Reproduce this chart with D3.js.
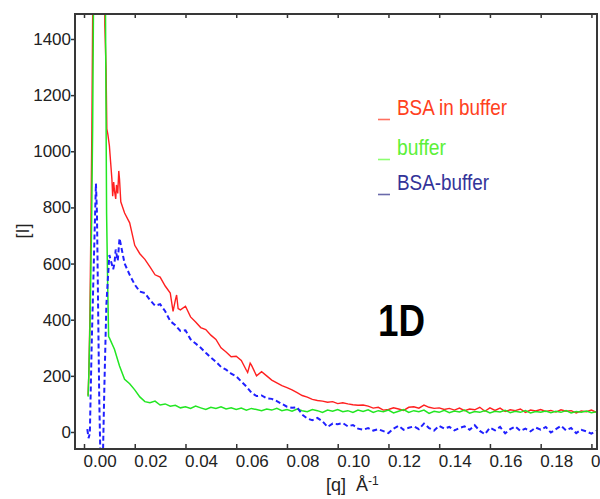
<!DOCTYPE html>
<html>
<head>
<meta charset="utf-8">
<script src="https://cdn.jsdelivr.net/npm/d3@7"></script>
<style>
body { margin: 0; background: #fff; }
svg { display: block; }
</style>
</head>
<body>
<svg id="fig"></svg>
<script>
// shared q grid for the tail of the three curves (A^-1)
const qGrid = [
  0.010, 0.012, 0.014, 0.016, 0.018, 0.020, 0.022, 0.024, 0.026, 0.028,
  0.030, 0.032, 0.034, 0.036, 0.038, 0.040, 0.042, 0.044, 0.046, 0.048,
  0.050, 0.052, 0.054, 0.056, 0.058, 0.060, 0.062, 0.064, 0.066, 0.068,
  0.070, 0.072, 0.074, 0.076, 0.078, 0.080, 0.082, 0.084, 0.086, 0.088,
  0.090, 0.092, 0.094, 0.096, 0.098, 0.100, 0.102, 0.104, 0.106, 0.108,
  0.110, 0.112, 0.114, 0.116, 0.118, 0.120, 0.122, 0.124, 0.126, 0.128,
  0.130, 0.132, 0.134, 0.136, 0.138, 0.140, 0.142, 0.144, 0.146, 0.148,
  0.150, 0.152, 0.154, 0.156, 0.158, 0.160, 0.162, 0.164, 0.166, 0.168,
  0.170, 0.172, 0.174, 0.176, 0.178, 0.180, 0.182, 0.184, 0.186, 0.188,
  0.190, 0.192, 0.194, 0.196, 0.198, 0.200, 0.202
];

// BSA in buffer: steep head + a few extra spikes, then the grid
const redHeadQ = [0.0016, 0.0019, 0.0023, 0.0027, 0.0031, 0.0035, 0.0050, 0.0075, 0.0082, 0.0087, 0.0090, 0.0094,
  0.0105, 0.0110, 0.0113, 0.0117, 0.0125, 0.0128, 0.0133, 0.0137, 0.0145,
  0.0351, 0.0365, 0.0371, 0.0645, 0.0655];
const redHead = [130, 210, 400, 720, 1080, 1600, 4000, 4000, 1450, 1290, 1080, 1060,
  960, 900, 840, 890, 830, 880, 850, 930, 820,
  430, 488, 440, 212, 245];
const redTail = [
  1020, 860, 900, 780, 745, 665, 635, 615, 588, 560,
  552, 520, 495, 470, 435, 448, 410, 392, 372, 365,
  345, 330, 300, 285, 268, 270, 255, 220, 238, 200,
  215, 200, 185, 175, 165, 158, 150, 140, 130, 124,
  116, 112, 110, 106, 108, 101, 104, 100, 97, 95,
  96, 92, 85, 88, 78, 80, 86, 82, 77, 88,
  90, 85, 96, 88, 84, 86, 80, 84, 78, 85,
  76, 82, 79, 88, 74, 86, 77, 85, 73, 79,
  76, 82, 70, 78, 75, 80, 73, 77, 71, 79,
  74, 76, 68, 75, 72, 78, 70
];

// buffer
const greenHeadQ = [0.0016, 0.0019, 0.0024, 0.0030, 0.0034, 0.0038, 0.0050, 0.0075, 0.0084, 0.0089, 0.0093, 0.0097];
const greenHead = [126, 200, 400, 750, 1080, 1600, 4000, 4000, 1600, 780, 540, 340];
const greenTail = [
  335, 295, 235, 188, 172, 150, 125, 108, 104, 110,
  96, 100, 92, 95, 86, 90, 84, 92, 86, 80,
  88, 84, 90, 82, 86, 80, 85, 78, 84, 80,
  76, 82, 78, 84, 76, 80, 74, 82, 76, 72,
  80, 76, 70, 78, 74, 80, 72, 76, 70, 78,
  73, 79, 70, 76, 72, 78, 68, 74, 80, 70,
  76, 72, 78, 66, 74, 70, 77, 69, 75, 71,
  78, 67, 73, 70, 76, 68, 74, 71, 77, 69,
  74, 70, 76, 68, 73, 70, 75, 69, 74, 70,
  76, 68, 73, 70, 75, 69, 72
];

// BSA-buffer
const blueHeadQ = [0.0013, 0.0018, 0.0023, 0.0030, 0.0040, 0.0047, 0.0051, 0.0060, 0.0066, 0.0072, 0.0080, 0.0088, 0.0095,
  0.0115, 0.0125, 0.0133];
const blueHead = [10, -22, -5, 300, 650, 885, 780, 120, -150, -200, 150, 450, 560,
  580, 650, 610];
const blueTail = [
  630, 600, 690, 600, 560, 525, 500, 495, 470, 450,
  455, 430, 395, 380, 360, 362, 330, 315, 300, 282,
  265, 250, 232, 222, 208, 198, 180, 162, 140, 128,
  130, 120, 118, 110, 100, 90, 86, 88, 62, 48,
  42, 50, 38, 18, 30, 28, 32, 20, 25, 12,
  8, 14, 5, 10, 3, -4, 12, 22, 8, 15,
  20, 10, 30, 14, 5, 22, 12, 18, 6, 14,
  20, 8, 24, 4, -8, 15, 6, 18, -5, 10,
  20, 4, 12, 2, 16, 8, 18, -2, 10, 22,
  6, 14, -4, 8, 2, -6, 4
];

const xTicks = [0, 0.02, 0.04, 0.06, 0.08, 0.10, 0.12, 0.14, 0.16, 0.18, 0.20];
const yTicks = [0, 200, 400, 600, 800, 1000, 1200, 1400];
const legendNames = ['BSA in buffer', 'buffer', 'BSA-buffer'];

function series(headQ, head, tail) {
  const pts = headQ.map((q, i) => [q, head[i]]).concat(qGrid.map((q, i) => [q, tail[i]]));
  return pts.sort((a, b) => a[0] - b[0]);
}

const width = 600, height = 499;
const plot = { left: 75, top: 14, right: 597, bottom: 449 };

const svg = d3.select('#fig').attr('width', width).attr('height', height);

const x = d3.scaleLinear().domain([-0.00355, 0.2022]).range([plot.left, plot.right]);
const y = d3.scaleLinear().domain([-60.6, 1489]).range([plot.bottom, plot.top]);

svg.append('clipPath').attr('id', 'clip')
  .append('rect')
  .attr('x', plot.left).attr('y', plot.top)
  .attr('width', plot.right - plot.left).attr('height', plot.bottom - plot.top);

const line = d3.line().x(d => x(d[0])).y(d => y(d[1]));
const curves = svg.append('g').attr('clip-path', 'url(#clip)');

curves.append('path').datum(series(redHeadQ, redHead, redTail))
  .attr('d', line).attr('fill', 'none').attr('stroke', '#ff2020').attr('stroke-width', 1.4);
curves.append('path').datum(series(greenHeadQ, greenHead, greenTail))
  .attr('d', line).attr('fill', 'none').attr('stroke', '#22e622').attr('stroke-width', 1.5);
curves.append('path').datum(series(blueHeadQ, blueHead, blueTail))
  .attr('d', line).attr('fill', 'none').attr('stroke', '#2020ff').attr('stroke-width', 2)
  .attr('stroke-dasharray', '5,3');

const tickFont = '"Liberation Sans", Arial, sans-serif';

// left axis, ticks outward
const gy = svg.append('g').attr('transform', `translate(${plot.left},0)`)
  .call(d3.axisLeft(y).tickValues(yTicks).tickFormat(d3.format('d')).tickSize(4).tickPadding(0));
gy.select('.domain').remove();
gy.selectAll('line').attr('stroke', '#333').attr('stroke-width', 1.5);
gy.selectAll('text').attr('font-family', tickFont).attr('font-size', 17).attr('fill', '#222');

// bottom axis, ticks inward, labels start at the tick (last one runs off the page, as in the original)
const gx = svg.append('g').attr('transform', `translate(0,${plot.bottom})`)
  .call(d3.axisBottom(x).tickValues(xTicks).tickFormat(d3.format('.2f')).tickSize(-5).tickPadding(6));
gx.select('.domain').remove();
gx.selectAll('line').attr('stroke', '#333').attr('stroke-width', 1.5);
gx.selectAll('text').attr('font-family', tickFont).attr('font-size', 17).attr('fill', '#222')
  .attr('text-anchor', 'start').attr('x', -1);

// top ticks, inward, no labels
const gt = svg.append('g').attr('transform', `translate(0,${plot.top})`)
  .call(d3.axisTop(x).tickValues(xTicks).tickFormat('').tickSize(-4));
gt.select('.domain').remove();
gt.selectAll('line').attr('stroke', '#333').attr('stroke-width', 1.5);

// frame
svg.append('rect')
  .attr('x', plot.left).attr('y', plot.top)
  .attr('width', plot.right - plot.left).attr('height', plot.bottom - plot.top)
  .attr('fill', 'none').attr('stroke', '#383838').attr('stroke-width', 2);

// axis titles
svg.append('text')
  .attr('transform', 'translate(29,231) rotate(-90)')
  .attr('text-anchor', 'middle')
  .attr('font-family', tickFont).attr('font-size', 18).attr('fill', '#222')
  .text('[I]');

const xt = svg.append('text').attr('x', 326).attr('y', 491)
  .attr('font-family', tickFont).attr('font-size', 18).attr('fill', '#222');
xt.append('tspan').text('[q]');
xt.append('tspan').attr('x', 356).text('Å');
xt.append('tspan').attr('dy', -6).attr('font-size', 12).text('-1');

// legend
const legendColors = ['#ff4020', '#5cf038', '#333399'];
const markColors = ['#ff7060', '#8cff70', '#6a6aaa'];
const legendBase = [115, 155, 190];
const legendLen = [110, 49, 92];
legendNames.forEach((name, i) => {
  svg.append('line')
    .attr('x1', 378).attr('x2', 390)
    .attr('y1', legendBase[i] + 4.5).attr('y2', legendBase[i] + 4.5)
    .attr('stroke', markColors[i]).attr('stroke-width', 1.6);
  svg.append('text')
    .attr('x', 397).attr('y', legendBase[i])
    .attr('font-family', '"Liberation Sans", Arial, sans-serif').attr('font-size', 22)
    .attr('textLength', legendLen[i]).attr('lengthAdjust', 'spacingAndGlyphs')
    .attr('fill', legendColors[i])
    .text(name);
});

// panel tag
svg.append('text')
  .attr('x', 378).attr('y', 336)
  .attr('font-family', '"Liberation Sans", Arial, sans-serif').attr('font-weight', 'bold')
  .attr('font-size', 44).attr('textLength', 47).attr('lengthAdjust', 'spacingAndGlyphs')
  .attr('fill', '#000')
  .text('1D');
</script>
</body>
</html>
